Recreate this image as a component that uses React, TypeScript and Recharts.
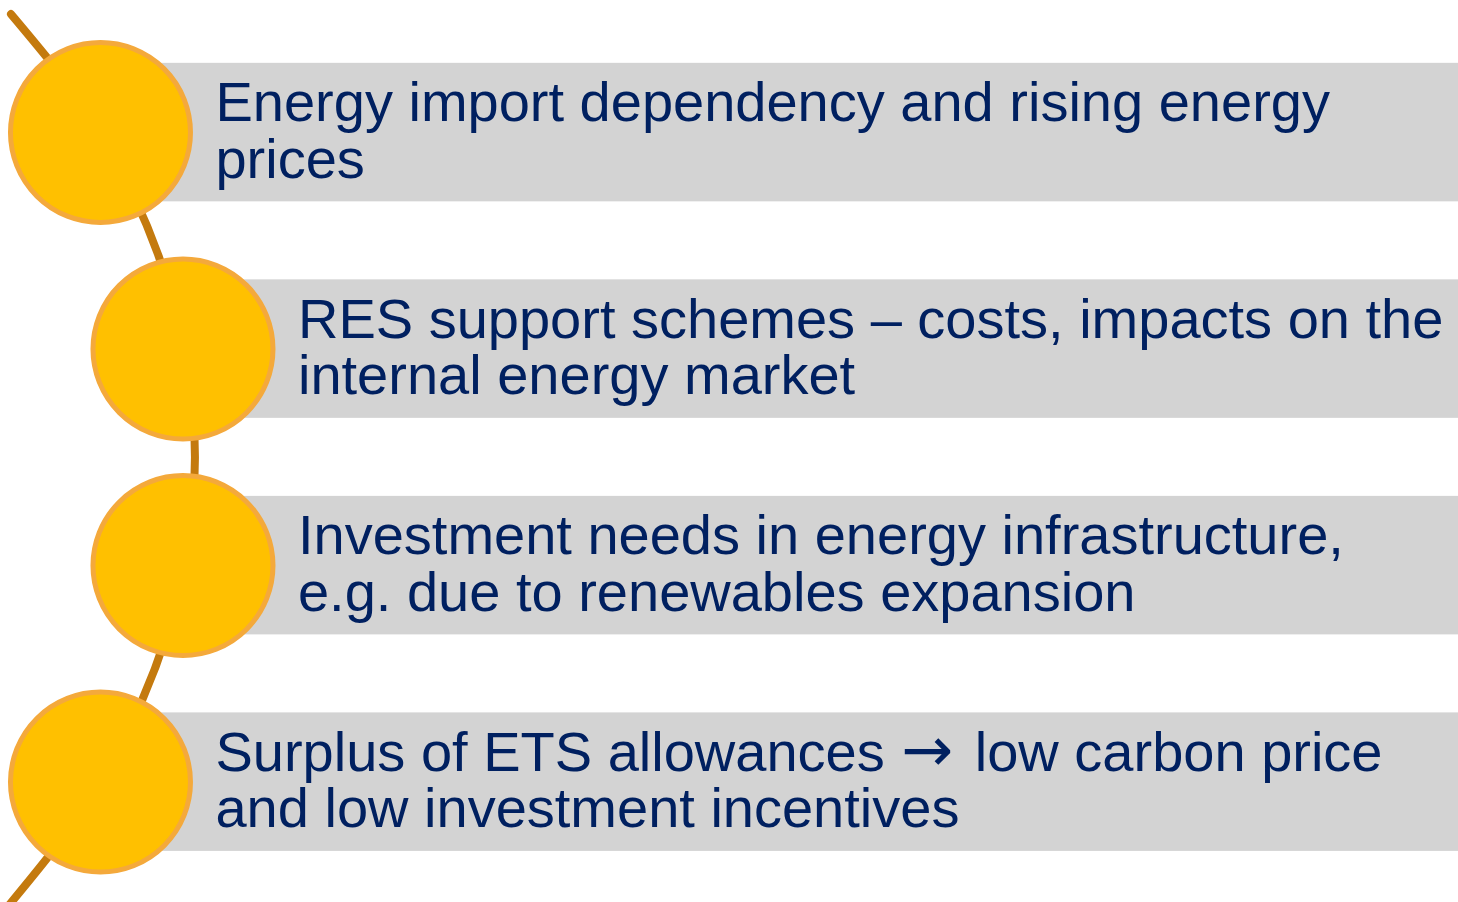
import React from "react";
import { ComposedChart, Bar, Line, Scatter, XAxis, YAxis } from "recharts";

// text of each topic, already split the way the slide breaks it
const topicLines = [
  ["Energy import dependency and rising energy", "prices"],
  ["RES support schemes – costs, impacts on the", "internal energy market"],
  ["Investment needs in energy infrastructure,", "e.g. due to renewables expansion"],
  ["Surplus of ETS allowances → low carbon price", "and low investment incentives"],
];
const topicRows = [0, 1, 2, 3];
const topicLevels = [0, 1, 1, 0];

// golden arc that threads the circles (row, level)
const arcRows = [-0.547, 0, 1.5, 3, 3.591];
const arcLevels = [-1.085, 0, 1.145, 0, -1.158];

const LEVEL_MIN = -1.218;
const LEVEL_MAX = 16.455;
const ROW_MIN = -0.612;
const ROW_MAX = 3.554;

const rows = topicLines.map((lines, i) => ({
  row: topicRows[i],
  indent: topicLevels[i],
  band: [topicLevels[i], LEVEL_MAX],
  lines,
}));

const arc = arcRows.map((r, i) => ({ row: r, indent: arcLevels[i] }));

const FONT = "'Liberation Sans', Arial, sans-serif";
const BAND_H = 138.5;

// the arrow glyph is drawn with DejaVu, a bit larger, like the wide slide arrow
function renderLine(s: string) {
  const parts = s.split("→");
  if (parts.length === 1) return s;
  return parts.map((p, i) =>
    i === 0 ? (
      <React.Fragment key={i}>{p}</React.Fragment>
    ) : (
      <React.Fragment key={i}>
        <tspan fontFamily="'DejaVu Sans', sans-serif" fontSize={62} dx={1}>→</tspan>
        <tspan dx={6}>{p}</tspan>
      </React.Fragment>
    )
  );
}

function TopicBar(props: any) {
  const { x, y, width, height, index } = props;
  const lines = rows[index].lines;
  const mid = y + height / 2;
  const tx = x + 115;
  const base = mid - 10.8;
  return (
    <g>
      <rect x={x} y={mid - BAND_H / 2} width={width} height={BAND_H} fill="#D3D3D3" />
      <text x={tx} y={base} fill="#002060" fontSize={56} fontFamily={FONT}>
        <tspan x={tx}>{renderLine(lines[0])}</tspan>
        <tspan x={tx} dy={56.6}>{renderLine(lines[1])}</tspan>
      </text>
    </g>
  );
}

function Bubble(props: any) {
  const { cx, cy } = props;
  return <circle cx={cx} cy={cy} r={90} fill="#FFC000" stroke="#F4A93B" strokeWidth={5} />;
}

export default function App() {
  return (
    <div style={{ position: "absolute", left: 0, top: 0 }}>
      <ComposedChart
        width={1458}
        height={902}
        data={rows}
        layout="vertical"
        margin={{ top: 0, right: 0, bottom: 0, left: 0 }}
      >
        <XAxis
          type="number"
          dataKey="indent"
          domain={[LEVEL_MIN, LEVEL_MAX]}
          allowDataOverflow
          hide
        />
        <YAxis
          type="number"
          dataKey="row"
          domain={[ROW_MIN, ROW_MAX]}
          ticks={topicRows}
          allowDataOverflow
          hide
        />
        <Bar dataKey="band" barSize={BAND_H} shape={TopicBar} isAnimationActive={false} />
        <Line
          data={arc}
          dataKey="indent"
          type="monotoneY"
          stroke="#C47A0E"
          strokeWidth={8}
          strokeLinecap="round"
          dot={false}
          activeDot={false}
          isAnimationActive={false}
        />
        <Scatter dataKey="indent" shape={Bubble} isAnimationActive={false} />
      </ComposedChart>
    </div>
  );
}
